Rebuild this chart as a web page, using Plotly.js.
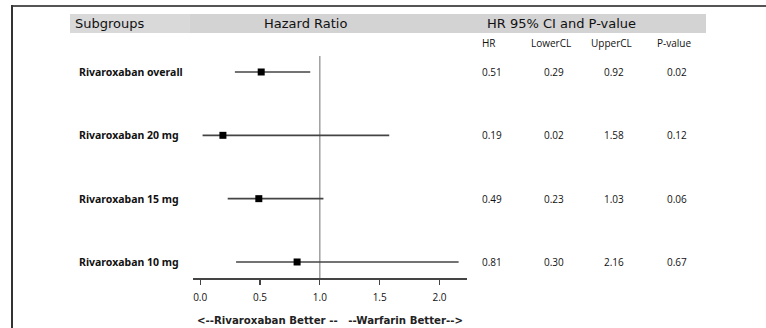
<!DOCTYPE html>
<html>
<head>
<meta charset="utf-8">
<script src="https://cdn.plot.ly/plotly-3.0.1.min.js"></script>
<style>html,body{margin:0;padding:0;background:#fff;}#chart{width:766px;height:328px;}</style>
</head>
<body>
<div id="chart"></div>
<script>
// ---- data ----
const subgroups = ["Rivaroxaban overall", "Rivaroxaban 20 mg", "Rivaroxaban 15 mg", "Rivaroxaban 10 mg"];
const hr = [0.51, 0.19, 0.49, 0.81];
const lowerCL = [0.29, 0.02, 0.23, 0.30];
const upperCL = [0.92, 1.58, 1.03, 2.16];
const pValue = [0.02, 0.12, 0.06, 0.67];
const tickVals = [0, 0.5, 1.0, 1.5, 2.0];
const tickLabels = ["0.0", "0.5", "1.0", "1.5", "2.0"];
const colHeaders = ["HR", "LowerCL", "UpperCL", "P-value"];

// ---- layout helpers (pixel -> paper) ----
const W = 766, H = 328;
const px = x => x / W;
const py = y => 1 - y / H;
const rowIdx = subgroups.map((_, i) => i + 1);
const fmt = v => v.toFixed(2);

const FONT = "DejaVu Sans, sans-serif";
const BOLDFONT = "Noto Sans, sans-serif";
const NUMFONT = "Open Sans, sans-serif";

const trace = {
  type: "scatter",
  mode: "markers",
  x: hr,
  y: rowIdx,
  marker: {symbol: "square", size: 7, color: "#000"},
  error_x: {
    type: "data", symmetric: false,
    array: hr.map((v, i) => upperCL[i] - v),
    arrayminus: hr.map((v, i) => v - lowerCL[i]),
    color: "#444", thickness: 1.6, width: 0
  },
  hoverinfo: "skip",
  cliponaxis: false
};

const annotations = [];
// header texts
annotations.push({text: "Subgroups", x: px(73), y: py(24), xanchor: "left", yanchor: "middle", font: {family: FONT, size: 13, color: "#111"}});
annotations.push({text: "Hazard Ratio", x: px(305), y: py(24), xanchor: "center", yanchor: "middle", font: {family: FONT, size: 13, color: "#111"}});
annotations.push({text: "HR 95% CI and P-value", x: px(561), y: py(24), xanchor: "center", yanchor: "middle", font: {family: FONT, size: 13, color: "#111"}});
const colX = [489, 551, 611, 674];
colHeaders.forEach((h, j) => annotations.push({text: h, x: px(colX[j]), y: py(43), xanchor: "center", yanchor: "middle", font: {family: NUMFONT, size: 10, color: "#111"}}));
const rowY = [72, 135, 199, 262];
subgroups.forEach((s, i) => {
  annotations.push({text: "<b>" + s + "</b>", x: px(77), y: py(rowY[i]), xanchor: "left", yanchor: "middle", font: {family: BOLDFONT, size: 10.5, color: "#111"}});
  [hr[i], lowerCL[i], upperCL[i], pValue[i]].forEach((v, j) => annotations.push({text: fmt(v), x: px(colX[j] + 3), y: py(rowY[i]), xanchor: "center", yanchor: "middle", font: {family: NUMFONT, size: 10, color: "#111"}}));
});
annotations.push({text: "<b><--Rivaroxaban Better --   --Warfarin Better--></b>", x: px(330), y: py(320), xanchor: "center", yanchor: "middle", font: {family: FONT, size: 10.2, color: "#222"}});
annotations.forEach(a => { a.xref = "paper"; a.yref = "paper"; a.showarrow = false; });

const shapes = [
  {type: "rect", xref: "paper", yref: "paper", x0: px(70), x1: px(190), y0: py(33), y1: py(14), fillcolor: "#d9d9d9", line: {width: 0}, layer: "below"},
  {type: "rect", xref: "paper", yref: "paper", x0: px(190), x1: px(706), y0: py(33), y1: py(14), fillcolor: "#d3d3d3", line: {width: 0}, layer: "below"},
  {type: "line", xref: "paper", yref: "paper", x0: px(11), x1: 1, y0: py(6), y1: py(6), line: {color: "#555", width: 2}},
  {type: "line", xref: "paper", yref: "paper", x0: px(12), x1: px(12), y0: py(5), y1: 0, line: {color: "#333", width: 2}},
  {type: "line", xref: "x", yref: "paper", x0: 1, x1: 1, y0: py(278), y1: py(56), line: {color: "#888", width: 1.2}, layer: "below"}
];

const layout = {
  width: W, height: H,
  margin: {l: 0, r: 0, t: 0, b: 0},
  paper_bgcolor: "#fff", plot_bgcolor: "rgba(0,0,0,0)",
  showlegend: false,
  xaxis: {
    domain: [px(193), px(467)],
    range: [-0.06, 2.23],
    tickvals: tickVals, ticktext: tickLabels,
    ticks: "outside", ticklen: 5, tickwidth: 1.3, tickcolor: "#444",
    ticklabelstandoff: 4,
    showline: true, linecolor: "#444", linewidth: 1.5,
    showgrid: false, zeroline: false,
    tickfont: {family: NUMFONT, size: 10, color: "#111"},
    anchor: "y", fixedrange: true
  },
  yaxis: {
    domain: [py(278), py(56)],
    range: [1 + (278 - 72) / 63.33, 1 + (56 - 72) / 63.33],
    showticklabels: false, showgrid: false, zeroline: false, showline: false, ticks: "",
    fixedrange: true
  },
  shapes: shapes,
  annotations: annotations
};

Plotly.newPlot("chart", [trace], layout, {displayModeBar: false, staticPlot: true});
</script>
</body>
</html>
